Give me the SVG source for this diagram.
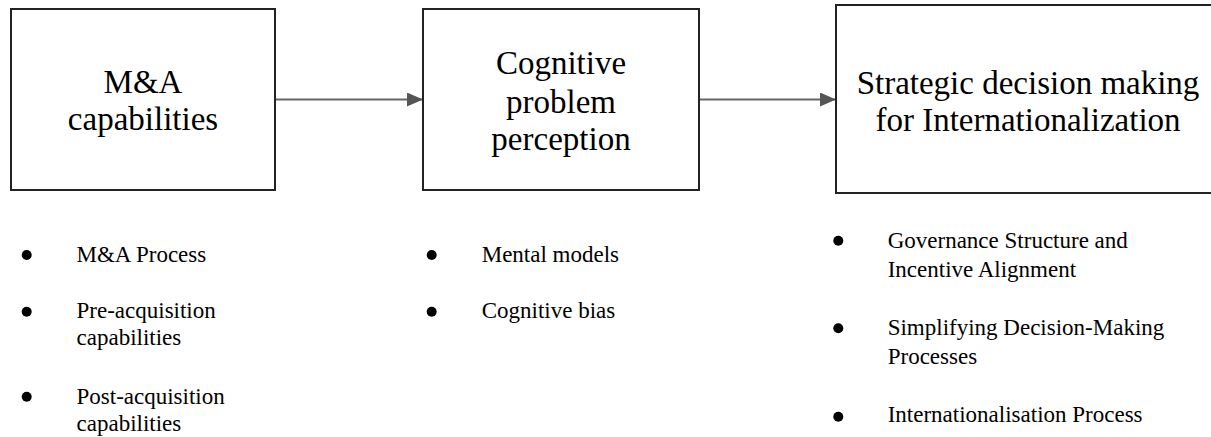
<svg xmlns="http://www.w3.org/2000/svg" width="1211" height="437" viewBox="0 0 1211 437">
<style>
.box{fill:#fff;stroke:#222;stroke-width:2}
.t{font-family:"Liberation Serif","Times New Roman",serif;fill:#000}
.big{font-size:33px;text-anchor:middle}
.sm{font-size:23px}
.con{stroke:#666;stroke-width:2;fill:none}
.b{fill:#000}
</style>
<defs>
<marker id="ah" viewBox="0 0 16 14" refX="16" refY="7" markerWidth="16" markerHeight="14" markerUnits="userSpaceOnUse" orient="auto">
<path d="M0,0 L16,7 L0,14 Z" fill="#555"/>
</marker>
</defs>
<g id="connectors">
<line class="con" x1="275" y1="99.5" x2="423" y2="99.5" marker-end="url(#ah)"/>
<line class="con" x1="699" y1="99.5" x2="836" y2="99.5" marker-end="url(#ah)"/>
</g>
<g id="node-ma">
<rect class="box" x="11" y="9" width="264" height="181"/>
<text class="t big" x="143" y="92.5">M&amp;A</text>
<text class="t big" x="143" y="130">capabilities</text>
</g>
<g id="node-cog">
<rect class="box" x="423" y="9" width="276" height="181"/>
<text class="t big" x="561" y="74">Cognitive</text>
<text class="t big" x="561" y="112.5">problem</text>
<text class="t big" x="561" y="150">perception</text>
</g>
<g id="node-strat">
<rect class="box" x="836" y="5" width="400" height="188"/>
<text class="t big" x="1028" y="94">Strategic decision making</text>
<text class="t big" x="1028" y="131">for Internationalization</text>
</g>
<g id="list-ma">
<circle class="b" cx="26.7" cy="255" r="5"/>
<text class="t sm" x="76.5" y="261.5">M&amp;A Process</text>
<circle class="b" cx="26.7" cy="311.7" r="5"/>
<text class="t sm" x="76.5" y="318">Pre-acquisition</text>
<text class="t sm" x="76.5" y="345">capabilities</text>
<circle class="b" cx="26.7" cy="396.7" r="5"/>
<text class="t sm" x="76.5" y="403.5">Post-acquisition</text>
<text class="t sm" x="76.5" y="430.5">capabilities</text>
</g>
<g id="list-cog">
<circle class="b" cx="431.7" cy="255" r="5"/>
<text class="t sm" x="481.7" y="261.5">Mental models</text>
<circle class="b" cx="431.7" cy="311.7" r="5"/>
<text class="t sm" x="481.7" y="318">Cognitive bias</text>
</g>
<g id="list-strat">
<circle class="b" cx="838.3" cy="240.7" r="5"/>
<text class="t sm" x="887.7" y="247.5">Governance Structure and</text>
<text class="t sm" x="887.7" y="277">Incentive Alignment</text>
<circle class="b" cx="838.3" cy="328.3" r="5"/>
<text class="t sm" x="887.7" y="335">Simplifying Decision-Making</text>
<text class="t sm" x="887.7" y="364">Processes</text>
<circle class="b" cx="838.3" cy="416.7" r="5"/>
<text class="t sm" x="887.7" y="422">Internationalisation Process</text>
</g>
</svg>
